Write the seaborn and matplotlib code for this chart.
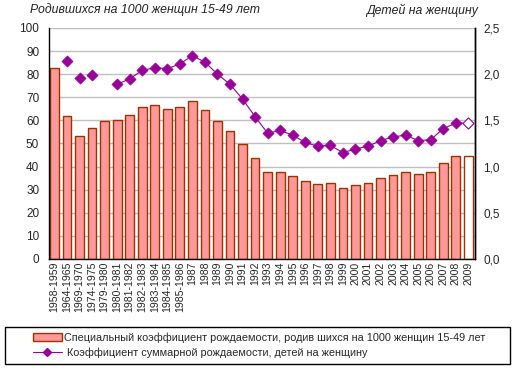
import numpy as np
import pandas as pd
import matplotlib
matplotlib.use("Agg")
import matplotlib.pyplot as plt
import seaborn as sns
from matplotlib.patches import Rectangle
from matplotlib.lines import Line2D
from matplotlib.patches import Patch

years = ["1958-1959", "1964-1965", "1969-1970", "1974-1975", "1979-1980",
         "1980-1981", "1981-1982", "1982-1983", "1983-1984", "1984-1985",
         "1985-1986", "1987", "1988", "1989", "1990", "1991", "1992",
         "1993", "1994", "1995", "1996", "1997", "1998", "1999", "2000",
         "2001", "2002", "2003", "2004", "2005", "2006", "2007", "2008", "2009"]

# births per 1000 women aged 15-49
gfr = [82.6, 61.8, 53.1, 56.6, 59.6, 60.1, 62.2, 65.7, 66.6, 64.8,
       65.7, 68.3, 64.4, 59.6, 55.3, 49.6, 43.6, 37.5, 37.5, 35.7,
       33.6, 32.3, 32.7, 30.5, 31.8, 32.7, 34.9, 36.2, 37.5, 36.6,
       37.5, 41.4, 44.6, 44.6]

# total fertility rate (None = no data)
tfr = [None, 2.14, 1.96, 1.99, None, 1.89, 1.95, 2.04, 2.07, 2.06,
       2.11, 2.20, 2.13, 2.00, 1.89, 1.73, 1.54, 1.36, 1.39, 1.34,
       1.26, 1.22, 1.23, 1.15, 1.19, 1.22, 1.28, 1.32, 1.34, 1.28,
       1.29, 1.41, 1.47, 1.47]

bar_face = "#FF9999"
bar_edge = "#993300"
purple = "#990099"

sns.set_style("white")
plt.rcParams["font.family"] = ["Liberation Sans", "DejaVu Sans"]

df = pd.DataFrame({"year": years, "gfr": gfr, "tfr": tfr})
df["pos"] = np.arange(len(df))

fig = plt.figure(figsize=(5.15, 3.73), dpi=100)
ax = fig.add_axes([0.095, 0.306, 0.827, 0.619])

sns.barplot(data=df, x="year", y="gfr", ax=ax, color=bar_face,
            edgecolor=bar_edge, linewidth=1, width=0.7, saturation=1)
ax.patches[-1].set_facecolor("white")

ax.set_ylim(0, 100)
ax.set_yticks(range(0, 101, 10))
ax.set_xlim(-0.44, len(years) - 0.48)
ax.set_xlabel("")
ax.set_ylabel("")
ax.grid(axis="y", color="#c0c0c0", linewidth=1)
ax.set_axisbelow(True)
ax.tick_params(axis="x", labelrotation=90, labelsize=7.6, length=0, pad=2)
ax.tick_params(axis="y", labelsize=8.5, length=0, pad=7)
ax.spines["top"].set_visible(False)
for s in ["left", "bottom", "right"]:
    ax.spines[s].set_color("black")
    ax.spines[s].set_linewidth(1)

ax2 = ax.twinx()
# points before 1980-1981 are not joined by the line
line_df = df[df["pos"] >= 5].dropna()
sns.lineplot(data=line_df, x="pos", y="tfr", ax=ax2, color=purple,
             linewidth=0.8)
pts = df.dropna()
sns.scatterplot(data=pts.iloc[:-1], x="pos", y="tfr", ax=ax2, marker="D",
                s=32, color=purple, edgecolor=purple, linewidth=0.5, zorder=3)
sns.scatterplot(data=pts.iloc[-1:], x="pos", y="tfr", ax=ax2, marker="D",
                s=32, color="white", edgecolor=purple, linewidth=0.8, zorder=3)
ax2.set_ylim(0, 2.5)
ax2.set_yticks(np.arange(0, 2.51, 0.5))
ax2.set_yticklabels([f"{v:.1f}".replace(".", ",") for v in np.arange(0, 2.51, 0.5)])
ax2.set_xlim(ax.get_xlim())
ax2.set_xlabel("")
ax2.set_ylabel("")
ax2.tick_params(axis="y", labelsize=8.5, length=0, pad=6)
for s in ["top", "left", "bottom"]:
    ax2.spines[s].set_visible(False)
ax2.spines["right"].set_color("black")
ax2.spines["right"].set_linewidth(1)

fig.text(30 / 515, 1 - 10 / 373, "Родившихся на 1000 женщин 15-49 лет",
         style="italic", fontsize=8.8, color="#222222", va="center", ha="left")
fig.text(478 / 515, 1 - 10 / 373, "Детей на женщину",
         style="italic", fontsize=8.8, color="#222222", va="center", ha="right")

fig.patches.append(Rectangle((5 / 515, 9 / 373), 505 / 515, 37 / 373,
                             transform=fig.transFigure, fill=False,
                             edgecolor="black", linewidth=1))
handles = [Patch(facecolor=bar_face, edgecolor=bar_edge, linewidth=1),
           Line2D([], [], color=purple, linewidth=0.8, marker="D",
                  markersize=4, markerfacecolor=purple)]
labels = ["Специальный коэффициент рождаемости, родив шихся на 1000 женщин 15-49 лет",
          " Коэффициент суммарной рождаемости, детей на женщину"]
fig.legend(handles, labels, loc="center", bbox_to_anchor=(259 / 515, 1 - 345.5 / 373),
           frameon=False, fontsize=7.8, handlelength=2.7, handleheight=0.8,
           handletextpad=0.2, labelspacing=0.45, borderpad=0)

fig.savefig("out.png", dpi=100)
